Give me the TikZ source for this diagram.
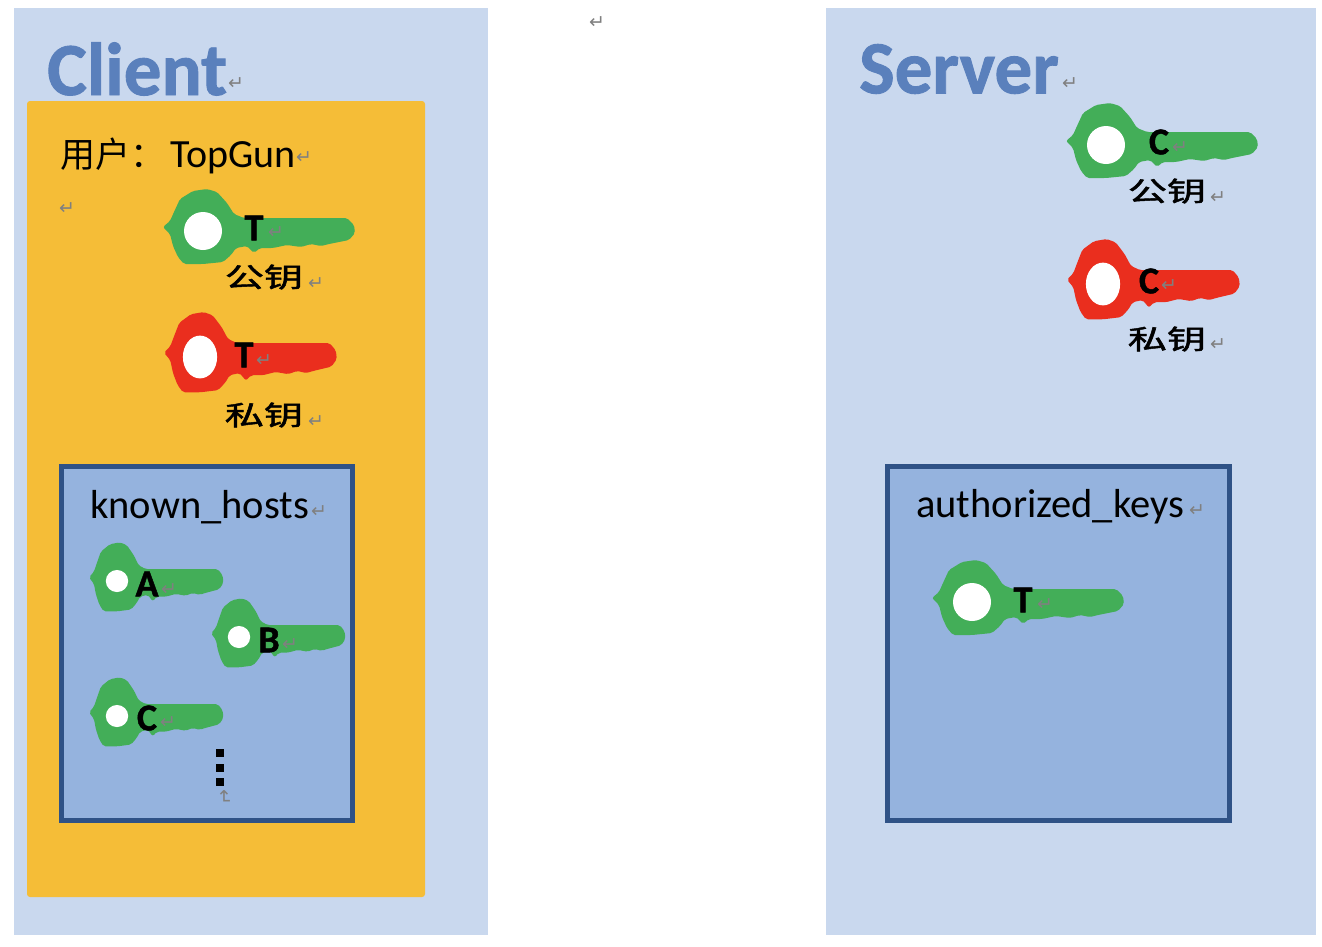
\documentclass[tikz,border=0pt]{standalone}
\usepackage{fontspec}
\setmainfont{Carlito}
\newfontfamily\cjkfont{Noto Sans CJK SC}
\newfontfamily\keycjkfont[FakeBold=1.6]{Noto Sans CJK SC}
\newfontfamily\heavyfont[FakeBold=1.2]{Carlito}
\newfontfamily\markfont{DejaVu Sans}
\usetikzlibrary{positioning}
\definecolor{panelblue}{HTML}{C9D8EE}
\definecolor{titleblue}{HTML}{5A80BC}
\definecolor{useryellow}{HTML}{F5BD37}
\definecolor{boxblue}{HTML}{95B3DE}
\definecolor{boxedge}{HTML}{2F5286}
\definecolor{keygreen}{HTML}{43AE58}
\definecolor{keyred}{HTML}{EA2E1E}
\tikzset{
  panel/.style={fill=panelblue},
  filebox/.style={draw=boxedge, line width=5pt, fill=boxblue},
  paneltitle/.style={anchor=west, inner sep=0pt, text=titleblue, font=\heavyfont\fontsize{75}{75}\selectfont\bfseries},
  filetitle/.style={anchor=west, inner sep=0pt, font=\fontsize{40.5}{41}\selectfont},
  keyletter/.style={inner sep=0pt, font=\heavyfont\fontsize{38}{38}\selectfont\bfseries},
  keylabel/.style={inner sep=0pt, xscale=1.45, font=\keycjkfont\fontsize{27}{27}\selectfont},
  retmark/.style={inner sep=0pt, text=black!50, font=\markfont\fontsize{19}{19}\selectfont},
  dotbox/.style={fill=black, inner sep=0pt, minimum size=8pt},
  pics/key/.style n args={3}{code={
    \fill[#1, rounded corners=2pt] (-40,-4) -- (-33,-10) -- (-29,-19) -- (-23,-32) -- (-10,-40) -- (4,-42)
      -- (14,-39) -- (24,-28) -- (31,-17) -- (41,-13) -- (144,-13) -- (151,-6) -- (152,2) -- (146,9)
      -- (126,13) -- (118,15) -- (108,13) -- (98,16) -- (84,14) -- (70,17) -- (57,17) -- (51,22) -- (44,15)
      -- (33,17) -- (28,24) -- (20,31) -- (0,33) -- (-19,33) -- (-25,26)
      -- (-30,15) -- (-33,3) -- cycle;
    \fill[white] (0,0) ellipse (#2 and #3);
  }}
}
\begin{document}
\begin{tikzpicture}[x=1pt, y=-1pt]
  \useasboundingbox (0,0) rectangle (1322,946);

  % Client side
  \fill[panel] (14,8) rectangle (488,935);
  \fill[useryellow, rounded corners=3pt] (27,101) rectangle (425,897);
  \node[paneltitle] (clienttitle) at (47,69) {Client};
  \node[anchor=west, inner sep=0pt, font=\fontsize{40}{40}\selectfont] (username) at (60,156)
    {{\cjkfont\fontsize{35}{35}\selectfont 用户}{\cjkfont\fontsize{35}{35}\selectfont ：}\kern5pt TopGun};

  % Client key pair
  \pic at (203,231) {key={keygreen}{19}{19}};
  \node[keyletter] (clientpubletter) at (254,228) {T};
  \node[keylabel] (clientpub) at (264,277) {公钥};
  \pic[xscale=0.9, yscale=1.07] at (200,357) {key={keyred}{19}{20}};
  \node[keyletter] (clientprivletter) at (244,355) {T};
  \node[keylabel] (clientpriv) at (264,415) {私钥};

  % known_hosts
  \draw[filebox] (61,466) rectangle (352.5,820);
  \node[filetitle] (knownhosts) at (90,507) {known\_hosts};
  \pic[xscale=0.7, yscale=0.92] at (117,581) {key={keygreen}{16}{12}};
  \node[keyletter] (hostA) at (147,584) {A};
  \pic[xscale=0.7, yscale=0.92] at (239,637) {key={keygreen}{16}{12}};
  \node[keyletter] (hostB) at (269,640) {B};
  \pic[xscale=0.7, yscale=0.92] at (117,716) {key={keygreen}{16}{12}};
  \node[keyletter] (hostC) at (147,718) {C};
  \foreach \i/\y in {1/753,2/768,3/782}
    \node[dotbox] (dot\i) at (220,\y) {};

  % Server side
  \fill[panel] (826,8) rectangle (1316,935);
  \node[paneltitle] (servertitle) at (859,69) {Server};

  % Server key pair
  \pic at (1106,145) {key={keygreen}{19}{19}};
  \node[keyletter] (serverpubletter) at (1159,142) {C};
  \node[keylabel] (serverpub) at (1167,191) {公钥};
  \pic[xscale=0.9, yscale=1.07] at (1103,284) {key={keyred}{19}{20}};
  \node[keyletter] (serverprivletter) at (1149,281) {C};
  \node[keylabel] (serverpriv) at (1167,339) {私钥};

  % authorized_keys
  \draw[filebox] (887.5,466) rectangle (1229.5,820);
  \node[filetitle] (authkeys) at (916,507) {authorized\_keys};
  \pic at (972,602) {key={keygreen}{19}{19}};
  \node[keyletter] (authT) at (1023,600) {T};

  % Paragraph marks
  \foreach \n/\x/\y in {a/597/23,b/236/84,c/1070/84,d/304/158,e/67/209,f/276/233,g/316/284,h/264/361,
      i/316/422,j/319/512,k/169/590,l/290/645,m/168/723,n/1197/511,o/1180/148,p/1218/198,
      q/1169/286,r/1218/345,s/1045/605}
    \node[retmark] (mark\n) at (\x,\y) {↵};
  \node[retmark, rotate=-90] (markdots) at (224,797) {↵};
\end{tikzpicture}
\end{document}
